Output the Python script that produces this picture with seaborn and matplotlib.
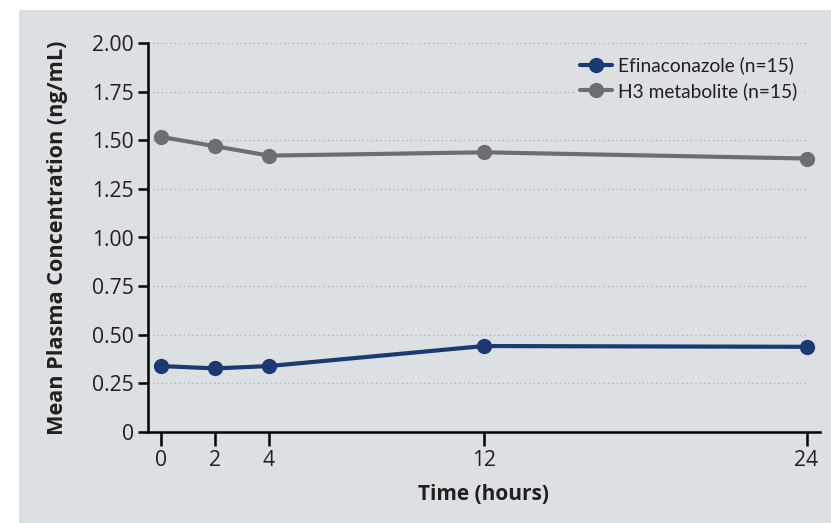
import matplotlib
matplotlib.use("Agg")
import matplotlib.pyplot as plt
import matplotlib.ticker as mticker
from matplotlib.patches import Rectangle
import seaborn as sns
import pandas as pd

time_hours = [0, 2, 4, 12, 24]
efinaconazole = [0.339, 0.327, 0.339, 0.442, 0.438]
h3_metabolite = [1.517, 1.469, 1.421, 1.438, 1.406]
series_names = ["Efinaconazole (n=15)", "H3 metabolite (n=15)"]
y_ticks = [0, 0.25, 0.5, 0.75, 1.0, 1.25, 1.5, 1.75, 2.0]
x_ticks = [0, 2, 4, 12, 24]

df = pd.DataFrame({
    "Time": time_hours * 2,
    "Conc": efinaconazole + h3_metabolite,
    "Series": [series_names[0]] * len(time_hours) + [series_names[1]] * len(time_hours),
})

sns.set_theme(style="white")
plt.rcParams["font.family"] = ["Open Sans", "DejaVu Sans"]

panel = "#dde0e3"
text_c = "#231f20"
navy = "#1b3a72"
grey = "#6d6e71"

fig = plt.figure(figsize=(8.31, 5.23), dpi=100, facecolor="white")
fig.patches.append(Rectangle((19 / 831, 0), 1 - 19 / 831, 1 - 10 / 523,
                             transform=fig.transFigure, facecolor=panel,
                             edgecolor="none", zorder=-10))
ax = fig.add_axes([148 / 831, 1 - 432 / 523, (820 - 148) / 831, (432 - 43) / 523])
ax.set_zorder(2)
ax.set_facecolor(panel)

sns.lineplot(data=df, x="Time", y="Conc", hue="Series", palette=[navy, grey],
             marker="o", markersize=11, markeredgewidth=0, linewidth=3.0,
             ax=ax, zorder=3)

ax.set_xlim(-0.5, 24.5)
ax.set_ylim(0, 2.0)
ax.set_xticks(x_ticks)
ax.set_yticks(y_ticks)
ax.yaxis.set_major_formatter(mticker.FuncFormatter(lambda v, p: "0" if v == 0 else f"{v:.2f}"))

for y in y_ticks[1:]:
    ax.axhline(y, xmin=0, xmax=(807 - 148) / (820 - 148), color="#a9abae",
               linestyle=(0, (1, 2.5)), linewidth=0.9, zorder=1)

for s in ["top", "right"]:
    ax.spines[s].set_visible(False)
for s in ["left", "bottom"]:
    ax.spines[s].set_color("black")
    ax.spines[s].set_linewidth(1.8)

ax.tick_params(axis="y", direction="out", length=7, width=1.8, color="black",
               labelsize=15.2, labelcolor=text_c, pad=3, left=True)
ax.tick_params(axis="x", direction="out", length=10, width=1.8, color="black",
               labelsize=15.2, labelcolor=text_c, pad=3, bottom=True)

ax.set_xlabel("Time (hours)", fontsize=15, fontweight="bold", color=text_c)
ax.set_ylabel("Mean Plasma Concentration (ng/mL)", fontsize=15.6, fontweight="bold", color=text_c)
ax.xaxis.set_label_coords(0.5, (432 - 495) / 389)
ax.yaxis.set_label_coords((57 - 148) / 672, 0.5)
ax.xaxis.label.set_va("center")
ax.yaxis.label.set_va("center")

leg = ax.legend(loc="upper left", bbox_to_anchor=((574 - 148) / 672, (432 - 51) / 389),
                frameon=True, facecolor=panel, edgecolor="none", framealpha=1.0,
                prop={"family": ["Lato", "DejaVu Sans"], "size": 13.8},
                handlelength=1.7, handletextpad=0.3,
                borderpad=0.3, labelspacing=0.38, borderaxespad=0.0)
for t in leg.get_texts():
    t.set_color(text_c)
leg.set_zorder(5)

fig.savefig("out.png", dpi=100, facecolor="white")
